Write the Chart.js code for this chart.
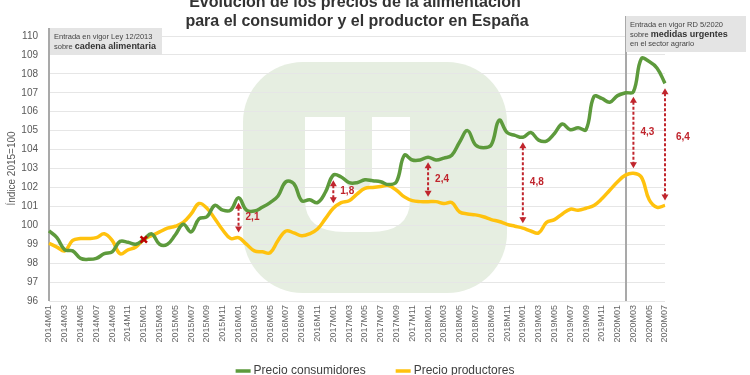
<!DOCTYPE html>
<html><head><meta charset="utf-8">
<script src="https://cdn.jsdelivr.net/npm/chart.js@4/dist/chart.umd.min.js"></script>
<style>html,body{margin:0;padding:0;background:#fff;}#wrap{width:750px;height:375px;position:relative;}</style>
</head><body><div id="wrap"><canvas id="c" width="750" height="375"></canvas></div>
<script>
// ---- data ----
const years = [2014, 2015, 2016, 2017, 2018, 2019, 2020];
const months = [];
years.forEach(y => { for (let m = 1; m <= 12; m++) { if (y === 2020 && m > 7) break; months.push(y + 'M' + String(m).padStart(2, '0')); } });

const consumidores = [
  99.7, 99.35, 98.7, 98.65, 98.25, 98.2, 98.25, 98.5, 98.6, 99.15, 99.1, 99.0,
  99.25, 99.55, 99.0, 99.0, 99.5, 100.05, 99.65, 100.35, 100.45, 101.05, 100.8, 100.8,
  101.45, 100.8, 100.75, 100.95, 101.2, 101.55, 102.3, 102.2, 101.3, 101.35, 101.2, 101.75,
  102.65, 102.55, 102.25, 102.25, 102.4, 102.35, 102.3, 102.15, 102.3, 103.7, 103.45, 103.45,
  103.6, 103.45, 103.55, 103.7, 104.4, 105.0, 104.25, 104.1, 104.25, 105.55, 104.9, 104.75,
  104.65, 104.9, 104.5, 104.45, 104.85, 105.35, 105.05, 105.15, 105.05, 106.8, 106.7, 106.5,
  106.85, 107.0, 107.05, 108.8, 108.65, 108.3, 107.5
];
const productores = [
  99.05, 98.85, 98.65, 99.2, 99.3, 99.3, 99.35, 99.55, 99.2, 98.5, 98.7, 98.85,
  99.25, 99.45, 99.65, 99.85, 99.95, 100.15, 100.6, 101.15, 100.9, 100.35, 99.75, 99.3,
  99.35, 99.0, 98.65, 98.6, 98.55, 99.2, 99.7, 99.6, 99.45, 99.55, 99.8, 100.35,
  100.9, 101.2, 101.3, 101.65, 101.95, 102.0, 102.05, 102.1, 101.85, 101.5, 101.3, 101.25,
  101.25, 101.25, 101.15, 101.2, 100.7, 100.6, 100.55, 100.45, 100.3, 100.2, 100.05, 99.95,
  99.85, 99.7, 99.6, 100.15, 100.3, 100.6, 100.85, 100.8, 100.9, 101.05, 101.4, 101.85,
  102.3, 102.65, 102.75, 102.55, 101.35, 100.95, 101.05
];
const seriesNames = ['Precio consumidores', 'Precio productores'];
const markerMonth = '2015M01';
const markerValue = 99.25;
const gapMonths = ['2016M01', '2017M01', '2018M01', '2019M01', '2020M03', '2020M07'];
const gapLabels = ['2,1', '1,8', '2,4', '4,8', '4,3', '6,4'];
const eventMonths = ['2014M01', '2020M02'];
const yMin = 96, yMax = 110, yStep = 1;
const titleLines = ['Evolución de los precios de la alimentación', 'para el consumidor y el productor en España'];
const yTitle = 'Índice 2015=100';
const note1 = ['Entrada en vigor Ley 12/2013', 'sobre ', 'cadena alimentaria'];
const note2 = ['Entrada en vigor RD 5/2020', 'sobre ', 'medidas urgentes', 'en el sector agrario'];

// ---- styles ----
const FONT = "'Liberation Sans', Arial, sans-serif";
const GREEN = '#5d9a3c';
const YELLOW = '#ffc20e';
const RED = '#c0252d';

const decor = {
  id: 'decor',
  beforeDraw(chart) {
    const ctx = chart.ctx;
    ctx.save();
    ctx.fillStyle = '#ffffff';
    ctx.fillRect(0, 0, chart.width, chart.height);
    // watermark logo
    ctx.fillStyle = '#e6eee1';
    ctx.beginPath();
    ctx.roundRect(243, 62, 264, 231, 60);
    ctx.fill();
    ctx.fillStyle = '#ffffff';
    ctx.beginPath();
    ctx.moveTo(305, 117);
    ctx.lineTo(345, 117);
    ctx.lineTo(345, 175);
    ctx.quadraticCurveTo(345, 190, 358, 190);
    ctx.quadraticCurveTo(372, 190, 372, 175);
    ctx.lineTo(372, 117);
    ctx.lineTo(410, 117);
    ctx.lineTo(410, 200);
    ctx.quadraticCurveTo(410, 232, 370, 232);
    ctx.lineTo(345, 232);
    ctx.quadraticCurveTo(305, 232, 305, 200);
    ctx.closePath();
    ctx.fill();
    ctx.restore();
  },
  beforeDatasetsDraw(chart) {
    const ctx = chart.ctx, xs = chart.scales.x, ca = chart.chartArea;
    ctx.save();
    ctx.strokeStyle = '#a9a9a9';
    ctx.lineWidth = 2;
    const tops = [28, 16];
    eventMonths.forEach((m, i) => {
      const x = Math.round(xs.getPixelForValue(months.indexOf(m)));
      ctx.beginPath();
      ctx.moveTo(x, tops[i]);
      ctx.lineTo(x, ca.bottom);
      ctx.stroke();
    });
    ctx.restore();
  },
  afterDatasetsDraw(chart) {
    const ctx = chart.ctx, xs = chart.scales.x, ys = chart.scales.y;
    ctx.save();
    gapMonths.forEach((m, i) => {
      const idx = months.indexOf(m);
      const x = xs.getPixelForValue(idx);
      const y1 = ys.getPixelForValue(consumidores[idx]) + 5;
      const y2 = ys.getPixelForValue(productores[idx]) - 5;
      ctx.strokeStyle = RED; ctx.fillStyle = RED;
      ctx.lineWidth = 2;
      ctx.setLineDash([3, 2]);
      ctx.beginPath(); ctx.moveTo(x, y1 + 5); ctx.lineTo(x, y2 - 5); ctx.stroke();
      ctx.setLineDash([]);
      ctx.beginPath(); ctx.moveTo(x, y1); ctx.lineTo(x - 3.5, y1 + 6); ctx.lineTo(x + 3.5, y1 + 6); ctx.closePath(); ctx.fill();
      ctx.beginPath(); ctx.moveTo(x, y2); ctx.lineTo(x - 3.5, y2 - 6); ctx.lineTo(x + 3.5, y2 - 6); ctx.closePath(); ctx.fill();
      ctx.font = 'bold 10px ' + FONT;
      ctx.textAlign = 'left'; ctx.textBaseline = 'middle';
      const dx = i === gapMonths.length - 1 ? 11 : 7;
      const dy = i === gapMonths.length - 1 ? -7 : 0;
      ctx.fillText(gapLabels[i], x + dx, (y1 + y2) / 2 + dy);
    });
    ctx.restore();
  },
  afterDraw(chart) {
    const ctx = chart.ctx;
    ctx.save();
    // title
    ctx.fillStyle = '#333333';
    ctx.font = 'bold 16px ' + FONT;
    ctx.textAlign = 'center'; ctx.textBaseline = 'alphabetic';
    ctx.fillText(titleLines[0], 355, 7);
    ctx.fillText(titleLines[1], 357, 26);
    // note boxes
    ctx.fillStyle = '#e4e4e4';
    ctx.fillRect(50, 28, 112, 27);
    ctx.fillRect(626, 16, 120, 36);
    ctx.textAlign = 'left'; ctx.textBaseline = 'middle';
    ctx.fillStyle = '#444444';
    ctx.font = '7.5px ' + FONT;
    ctx.fillText(note1[0], 54, 37);
    ctx.fillText(note1[1], 54, 47);
    let w = ctx.measureText(note1[1]).width;
    ctx.fillStyle = '#333333';
    ctx.font = 'bold 9px ' + FONT;
    ctx.fillText(note1[2], 54 + w, 46.5);
    ctx.fillStyle = '#444444';
    ctx.font = '7.5px ' + FONT;
    ctx.fillText(note2[0], 630, 25);
    ctx.fillText(note2[1], 630, 35);
    w = ctx.measureText(note2[1]).width;
    ctx.fillText(note2[3], 630, 44);
    ctx.fillStyle = '#333333';
    ctx.font = 'bold 9px ' + FONT;
    ctx.fillText(note2[2], 630 + w, 34.5);
    // legend
    const ds = chart.data.datasets.slice(0, 2);
    ctx.font = '12px ' + FONT;
    const widths = ds.map(d => ctx.measureText(d.label).width);
    const total = widths.reduce((a, b) => a + b, 0) + 2 * 18 + 30;
    let lx = 375 - total / 2;
    const ly = 371;
    ds.forEach((d, i) => {
      ctx.strokeStyle = d.borderColor; ctx.lineWidth = 3.5;
      ctx.beginPath(); ctx.moveTo(lx, ly); ctx.lineTo(lx + 15, ly); ctx.stroke();
      ctx.fillStyle = '#404040';
      ctx.fillText(d.label, lx + 18, ly);
      lx += 18 + widths[i] + 30;
    });
    ctx.restore();
  }
};

new Chart(document.getElementById('c'), {
  type: 'line',
  data: {
    labels: months,
    datasets: [
      { label: seriesNames[0], data: consumidores, borderColor: GREEN, backgroundColor: GREEN, borderWidth: 3.5, pointRadius: 0, tension: 0.4, order: 1 },
      { label: seriesNames[1], data: productores, borderColor: YELLOW, backgroundColor: YELLOW, borderWidth: 3.5, pointRadius: 0, tension: 0.4, order: 2 },
      { label: 'marker', data: months.map(m => m === markerMonth ? markerValue : null), showLine: false, pointStyle: 'crossRot', pointRadius: 4.5, borderColor: '#c00000', borderWidth: 2.5, order: 0 }
    ]
  },
  options: {
    responsive: false,
    animation: false,
    devicePixelRatio: 1,
    layout: { padding: { top: 36, right: 85, bottom: 0, left: 0 } },
    plugins: { legend: { display: false }, title: { display: false }, tooltip: { enabled: false } },
    scales: {
      x: {
        offset: false,
        grid: { display: false, drawTicks: false },
        border: { display: false },
        ticks: {
          autoSkip: false, minRotation: 90, maxRotation: 90, padding: 4,
          font: { size: 9, family: FONT }, color: '#666666',
          callback: function (v, i) { return i % 2 === 0 ? this.getLabelForValue(v) : ''; }
        },
        afterFit: s => { s.height = 74; }
      },
      y: {
        min: yMin, max: yMax,
        ticks: { stepSize: yStep, font: { size: 10, family: FONT }, color: '#595959', padding: 11 },
        grid: { color: '#e6e6e6', drawTicks: false },
        border: { display: false },
        title: { display: true, text: yTitle, font: { size: 10, family: FONT }, color: '#595959', padding: { top: 6, bottom: 0 } },
        afterFit: s => { s.width = 49; }
      }
    }
  },
  plugins: [decor]
});
</script>
</body></html>
